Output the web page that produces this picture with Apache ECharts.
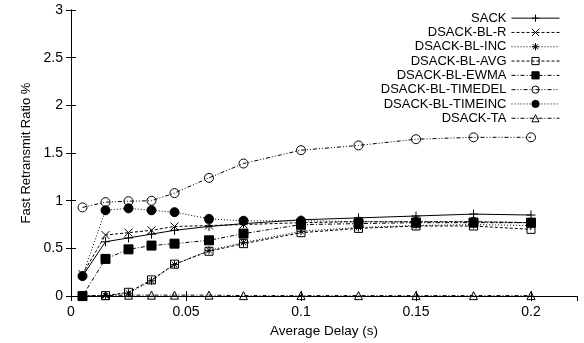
<!DOCTYPE html>
<html>
<head>
<meta charset="utf-8">
<script src="https://cdn.jsdelivr.net/npm/echarts@6/dist/echarts.min.js"></script>
<style>
  html, body { margin: 0; padding: 0; background: #fff; }
  #chart { width: 584px; height: 343px; }
</style>
</head>
<body>
<div id="chart"></div>
<script>
// average delay (s)
var delays = [0.005, 0.015, 0.025, 0.035, 0.045, 0.06, 0.075, 0.1, 0.125, 0.15, 0.175, 0.2];

// fast retransmit ratio % per variant
var sack        = [0.21, 0.57, 0.61, 0.65, 0.69, 0.73, 0.76, 0.80, 0.82, 0.84, 0.86, 0.85];
var blR         = [0.23, 0.64, 0.665, 0.69, 0.73, 0.74, 0.75, 0.77, 0.78, 0.78, 0.78, 0.77];
var blInc       = [0.00, 0.005, 0.03, 0.16, 0.33, 0.48, 0.56, 0.68, 0.72, 0.74, 0.75, 0.74];
var blAvg       = [0.00, 0.005, 0.04, 0.17, 0.335, 0.47, 0.55, 0.665, 0.71, 0.735, 0.735, 0.70];
var blEwma      = [0.00, 0.39, 0.49, 0.53, 0.55, 0.585, 0.655, 0.75, 0.76, 0.77, 0.77, 0.77];
var blTimedel   = [0.93, 0.985, 0.995, 1.0, 1.08, 1.24, 1.39, 1.53, 1.58, 1.645, 1.665, 1.665];
var blTimeinc   = [0.21, 0.90, 0.92, 0.90, 0.88, 0.81, 0.79, 0.79, 0.78, 0.78, 0.78, 0.77];
var ta          = [0.005, 0.005, 0.01, 0.01, 0.01, 0.01, 0.005, 0.005, 0.005, 0.005, 0.005, 0.005];

var names = ['SACK', 'DSACK-BL-R', 'DSACK-BL-INC', 'DSACK-BL-AVG', 'DSACK-BL-EWMA',
             'DSACK-BL-TIMEDEL', 'DSACK-BL-TIMEINC', 'DSACK-TA'];
var xTicks = [0, 0.05, 0.1, 0.15, 0.2];

var PLUS  = 'path://M0,5L10,5M5,0L5,10';
var CROSS = 'path://M0,0L10,10M0,10L10,0';
var STAR  = 'path://M0,5L10,5M5,0L5,10M1.5,1.5L8.5,8.5M1.5,8.5L8.5,1.5';

function pairs(ys){
    var out = [];
    for (var i = 0; i < delays.length; i++) out.push([delays[i], ys[i]]);
    return out;
}

// build one gnuplot-like series
function mkSeries(name, ys, symbol, size, filled, dash){
    return {
        name: name,
        type: 'line',
        data: pairs(ys),
        symbol: symbol,
        symbolSize: size,
        showAllSymbol: true,
        animation: false,
        lineStyle: { color: '#000', width: 1, type: dash },
        itemStyle: {
            color: filled ? '#000' : 'rgba(0,0,0,0)',
            borderColor: '#000',
            borderWidth: 1
        },
        emphasis: { disabled: true }
    };
}

var chart = echarts.init(document.getElementById('chart'));
var font = 'Liberation Sans, Arial, sans-serif';

chart.setOption({
    backgroundColor: '#fff',
    animation: false,
    grid: { left: 71, right: 7, top: 10, bottom: 46, containLabel: false },
    legend: {
        orient: 'vertical',
        right: 24,
        top: 11,
        padding: 0,
        align: 'right',
        itemWidth: 48,
        itemHeight: 9,
        itemGap: 0,
        data: names,
        lineStyle: { width: 1 },
        itemStyle: { borderWidth: 1 },
        textStyle: { color: '#000', fontSize: 13, lineHeight: 14.3, fontFamily: font }
    },
    xAxis: [{
        type: 'value', min: 0, max: 0.22, interval: 0.05,
        name: 'Average Delay (s)', nameLocation: 'middle', nameGap: 23,
        nameTextStyle: { color: '#000', fontSize: 13.5, fontFamily: font },
        axisLine: { show: true, lineStyle: { color: '#000' } },
        axisTick: { inside: true, length: 5, lineStyle: { color: '#000' } },
        axisLabel: {
            color: '#000', fontSize: 14, margin: 9, fontFamily: font,
            showMaxLabel: false,
            formatter: function(v){ return xTicks.indexOf(Math.round(v * 100) / 100) >= 0 ? String(Math.round(v*100)/100) : ''; }
        },
        splitLine: { show: false }
    }, {
        type: 'value', min: 0, max: 0.22, interval: 0.05, position: 'top',
        axisLine: { show: true, lineStyle: { color: '#000' } },
        axisTick: { inside: true, length: 5, lineStyle: { color: '#000' } },
        axisLabel: { show: false },
        splitLine: { show: false }
    }],
    yAxis: [{
        type: 'value', min: 0, max: 3, interval: 0.5,
        name: 'Fast Retransmit Ratio %', nameLocation: 'middle', nameGap: 37,
        nameTextStyle: { color: '#000', fontSize: 13, fontFamily: font },
        axisLine: { show: true, lineStyle: { color: '#000' } },
        axisTick: { inside: true, length: 5, lineStyle: { color: '#000' } },
        axisLabel: { color: '#000', fontSize: 14, margin: 8, fontFamily: font },
        splitLine: { show: false }
    }, {
        type: 'value', min: 0, max: 3, interval: 0.5, position: 'right',
        axisLine: { show: true, lineStyle: { color: '#000' } },
        axisTick: { inside: true, length: 5, lineStyle: { color: '#000' } },
        axisLabel: { show: false },
        splitLine: { show: false }
    }],
    series: [
        mkSeries(names[0], sack,      PLUS,       9, true,  'solid'),
        mkSeries(names[1], blR,       CROSS,      8, true,  [3, 2]),
        mkSeries(names[2], blInc,     STAR,       8, true,  [1, 2]),
        mkSeries(names[3], blAvg,     'rect',     8, false, [3, 2]),
        mkSeries(names[4], blEwma,    'rect',     9, true,  [4, 2, 1, 2]),
        mkSeries(names[5], blTimedel, 'circle',   9, false, [4, 2, 1, 2, 1, 2]),
        mkSeries(names[6], blTimeinc, 'circle',   9, true,  [1, 2]),
        mkSeries(names[7], ta,        'triangle', 8, false, [4, 2, 1, 2])
    ]
});
</script>
</body>
</html>
